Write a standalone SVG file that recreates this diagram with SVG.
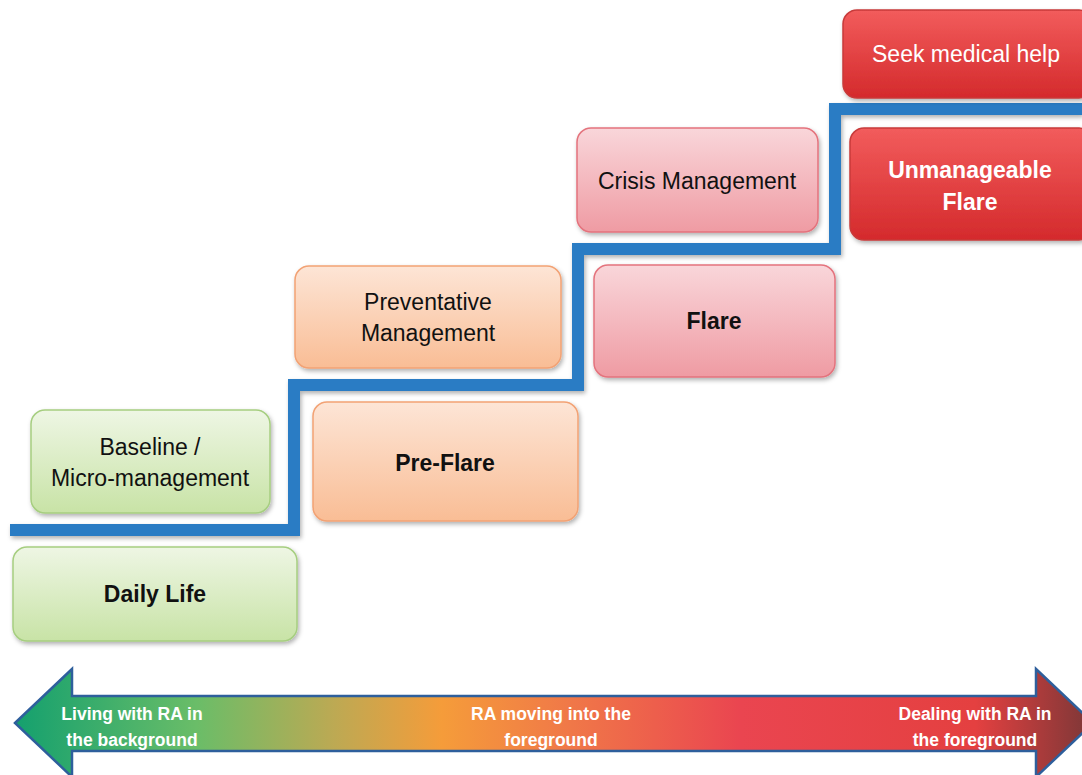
<svg xmlns="http://www.w3.org/2000/svg" width="1082" height="775" viewBox="0 0 1082 775">
<defs>
<linearGradient id="gGreen" x1="0" y1="0" x2="0" y2="1"><stop offset="0" stop-color="#eef6e4"/><stop offset="1" stop-color="#c8e3a6"/></linearGradient>
<linearGradient id="gOrange" x1="0" y1="0" x2="0" y2="1"><stop offset="0" stop-color="#fde5d6"/><stop offset="1" stop-color="#f9bd95"/></linearGradient>
<linearGradient id="gPink" x1="0" y1="0" x2="0" y2="1"><stop offset="0" stop-color="#f9d6da"/><stop offset="1" stop-color="#ef9ba3"/></linearGradient>
<linearGradient id="gRed" x1="0" y1="0" x2="0" y2="1"><stop offset="0" stop-color="#f25c5c"/><stop offset="1" stop-color="#d42a2c"/></linearGradient>
<linearGradient id="gArrow" x1="15" y1="0" x2="1082" y2="0" gradientUnits="userSpaceOnUse">
<stop offset="0" stop-color="#14a06e"/>
<stop offset="0.17" stop-color="#6abd68"/>
<stop offset="0.3" stop-color="#bda953"/>
<stop offset="0.4" stop-color="#f59c3a"/>
<stop offset="0.52" stop-color="#f07848"/>
<stop offset="0.68" stop-color="#ea4550"/>
<stop offset="0.9" stop-color="#e44040"/>
<stop offset="1" stop-color="#853838"/>
</linearGradient>
<filter id="sh" x="-10%" y="-10%" width="125%" height="130%"><feDropShadow dx="1.5" dy="2.5" stdDeviation="2" flood-color="#000" flood-opacity="0.3"/></filter>
</defs>
<style>
.box{stroke-width:1.5;filter:url(#sh)}
.green{fill:url(#gGreen);stroke:#a6ce80}
.orange{fill:url(#gOrange);stroke:#f2a274}
.pink{fill:url(#gPink);stroke:#e4737d}
.red{fill:url(#gRed);stroke:#c83a3a}
.t{font-family:"Liberation Sans",Arial,sans-serif;font-size:23px;text-anchor:middle;fill:#111}
.b{font-weight:bold}
.w{fill:#fff}
.at{font-family:"Liberation Sans",Arial,sans-serif;font-size:17.5px;font-weight:bold;text-anchor:middle;fill:#fff}
</style>
<g id="connectors">
<path d="M10,530 H294 V385 H578 V249 H835 V109 H1082" fill="none" stroke="#2a7cc4" stroke-width="12" stroke-linejoin="miter" filter="url(#sh)"/>
</g>
<g id="node-baseline"><rect class="box green" x="31" y="410" width="239" height="103" rx="14"/><text class="t" x="150" y="455">Baseline /</text><text class="t" x="150" y="486">Micro-management</text></g>
<g id="node-daily"><rect class="box green" x="13" y="547" width="284" height="94" rx="14"/><text class="t b" x="155" y="602">Daily Life</text></g>
<g id="node-preventative"><rect class="box orange" x="295" y="266" width="266" height="102" rx="14"/><text class="t" x="428" y="310">Preventative</text><text class="t" x="428" y="341">Management</text></g>
<g id="node-preflare"><rect class="box orange" x="313" y="402" width="265" height="119" rx="14"/><text class="t b" x="445" y="471">Pre-Flare</text></g>
<g id="node-crisis"><rect class="box pink" x="577" y="128" width="241" height="104" rx="14"/><text class="t" x="697" y="189">Crisis Management</text></g>
<g id="node-flare"><rect class="box pink" x="594" y="265" width="241" height="112" rx="14"/><text class="t b" x="714" y="329">Flare</text></g>
<g id="node-seek"><rect class="box red" x="843" y="10" width="250" height="88" rx="14"/><text class="t w" x="966" y="62">Seek medical help</text></g>
<g id="node-unmanageable"><rect class="box red" x="850" y="128" width="243" height="112" rx="14"/><text class="t b w" x="970" y="178">Unmanageable</text><text class="t b w" x="970" y="210">Flare</text></g>
<g id="axis-arrow">
<path d="M15,723 L72,669 V696 H1036 V669 L1093,723 L1036,777 V751 H72 V777 Z" fill="url(#gArrow)" stroke="#2e5f9c" stroke-width="2.5" stroke-linejoin="miter"/>
<text class="at" x="132" y="720">Living with RA in</text><text class="at" x="132" y="746">the background</text>
<text class="at" x="551" y="720">RA moving into the</text><text class="at" x="551" y="746">foreground</text>
<text class="at" x="975" y="720">Dealing with RA in</text><text class="at" x="975" y="746">the foreground</text>
</g>
</svg>
